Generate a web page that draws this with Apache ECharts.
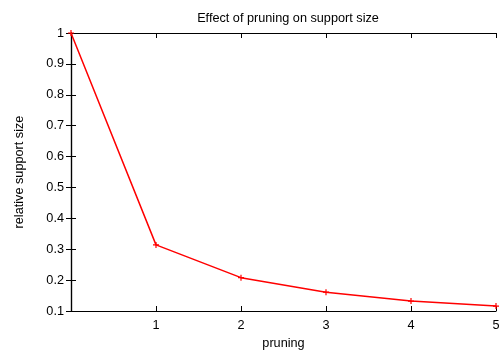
<!DOCTYPE html>
<html><head><meta charset="utf-8">
<script src="https://cdn.jsdelivr.net/npm/echarts@6/dist/echarts.min.js"></script>
<style>html,body{margin:0;padding:0;background:#fff}#c{width:502px;height:351px}</style>
</head><body><div id="c"></div>
<script>
var pruning = [0, 1, 2, 3, 4, 5];
var relSize = [1.0, 0.314, 0.208, 0.161, 0.132, 0.116];
var yTicks = [0.1, 0.2, 0.3, 0.4, 0.5, 0.6, 0.7, 0.8, 0.9, 1];
var xTicks = [1, 2, 3, 4, 5];

var F = 'Liberation Sans, Arial, Helvetica, sans-serif';
var FS = 12.7;
var chart = echarts.init(document.getElementById('c'));
var data = pruning.map(function (x, i) { return [x, relSize[i]]; });
var axLine = {show: true, lineStyle: {color: '#000', width: 1.2}};
var tick = {show: true, inside: true, length: 5, lineStyle: {color: '#000'}};
chart.setOption({
  animation: false,
  title: {text: 'Effect of pruning on support size', left: 283, top: 7, textAlign: 'center',
    textStyle: {fontFamily: F, fontSize: FS, fontWeight: 'normal', color: '#000'}},
  grid: {left: 71, right: 6, top: 33, bottom: 40, containLabel: false, outerBoundsMode: 'none'},
  xAxis: [{
    type: 'value', min: 0, max: 5, interval: 1, position: 'bottom',
    name: 'pruning', nameLocation: 'middle', nameGap: 23,
    nameTextStyle: {fontFamily: F, fontSize: FS, color: '#000'},
    axisLine: axLine, axisTick: tick, splitLine: {show: false},
    axisLabel: {fontFamily: F, fontSize: FS, color: '#000', margin: 8,
      formatter: function (v) { return xTicks.indexOf(v) >= 0 ? String(v) : ''; }}
  }, {
    type: 'value', min: 0, max: 5, interval: 1, position: 'top',
    axisLine: axLine, axisTick: tick, axisLabel: {show: false}, splitLine: {show: false}
  }],
  yAxis: [{
    type: 'value', min: 0.1, max: 1, interval: 0.1, position: 'left',
    name: 'relative support size', nameLocation: 'middle', nameGap: 45, nameRotate: 90,
    nameTextStyle: {fontFamily: F, fontSize: FS, color: '#000'},
    axisLine: axLine, axisTick: tick, splitLine: {show: false},
    axisLabel: {fontFamily: F, fontSize: FS, color: '#000', margin: 7,
      formatter: function (v) { var r = Math.round(v * 10) / 10; return yTicks.indexOf(r) >= 0 ? String(r) : ''; }}
  }, {
    type: 'value', min: 0.1, max: 1, interval: 0.1, position: 'right',
    axisLine: axLine, axisTick: tick, axisLabel: {show: false}, splitLine: {show: false}
  }],
  series: [{
    type: 'line', data: data, xAxisIndex: 0, yAxisIndex: 0,
    lineStyle: {color: '#ff0000', width: 1.5},
    itemStyle: {color: '#ff0000'},
    symbol: 'path://M4,0H6V4H10V6H6V10H4V6H0V4H4Z', symbolSize: 6, showSymbol: true
  }]
});
</script></body></html>
